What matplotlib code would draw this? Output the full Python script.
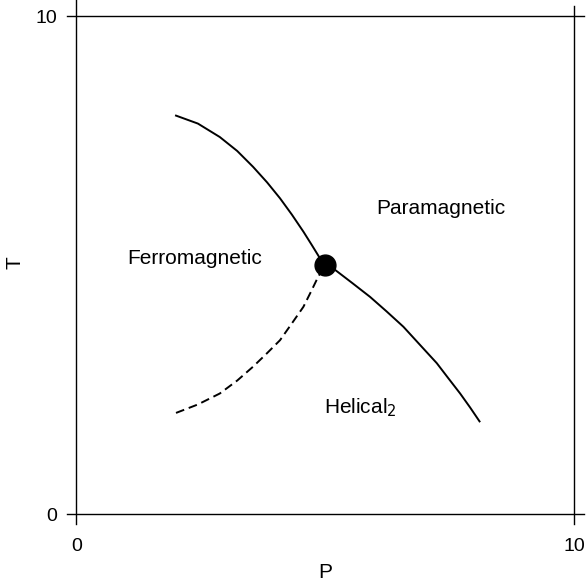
import matplotlib
matplotlib.use('Agg')
import matplotlib.pyplot as plt

plt.rcParams['font.family'] = ['Liberation Sans', 'DejaVu Sans']

# phase boundaries (P, T)
upper_p = [2.0, 2.44, 2.88, 3.23, 3.55, 3.83, 4.09, 4.33, 4.56, 4.73, 4.89, 5.0]
upper_t = [8.0, 7.84, 7.57, 7.29, 6.97, 6.66, 6.34, 6.01, 5.67, 5.40, 5.14, 5.0]
lower_p = [5.0, 5.20, 5.54, 5.90, 6.23, 6.57, 6.90, 7.24, 7.47, 7.71, 7.91, 8.1]
lower_t = [5.0, 4.90, 4.64, 4.36, 4.07, 3.76, 3.40, 3.03, 2.73, 2.42, 2.14, 1.86]
dashed_p = [2.0, 2.44, 2.88, 3.23, 3.55, 3.83, 4.09, 4.33, 4.56, 4.71, 4.86, 5.0]
dashed_t = [2.03, 2.20, 2.42, 2.68, 2.96, 3.23, 3.49, 3.83, 4.16, 4.46, 4.77, 5.0]
point_p, point_t = 5.0, 5.0

regions = ['Ferromagnetic', 'Paramagnetic', r'Helical$_2$']
region_p = [2.38, 7.33, 5.7]
region_t = [5.14, 6.14, 2.13]

fig = plt.figure(figsize=(5.87, 5.82), dpi=100)
ax = fig.add_axes([0.1303, 0.1168, 0.8477, 0.8557])

ax.plot(upper_p, upper_t, color='black', lw=1.4)
ax.plot(lower_p, lower_t, color='black', lw=1.4)
ax.plot(dashed_p, dashed_t, color='black', lw=1.4, linestyle=(0, (4.5, 2.5)))
ax.plot([point_p], [point_t], 'o', color='black', markersize=15)

for name, p, t in zip(regions, region_p, region_t):
    ax.text(p, t, name, fontsize=15, ha='center', va='center')

ax.set_xlim(0, 10)
ax.set_ylim(0, 10)
ax.set_xticks([0, 10])
ax.set_yticks([0, 10])
ax.tick_params(length=0, labelsize=14)
ax.tick_params(axis='x', pad=17)
ax.tick_params(axis='y', pad=14)

# frame lines that run a little past the corners
for s in ax.spines.values():
    s.set_visible(False)
e = 0.02
for y in (0, 1):
    ax.plot([-e, 1 + e], [y, y], transform=ax.transAxes, color='black', lw=1, clip_on=False)
ax.plot([0, 0], [-e, 1.04], transform=ax.transAxes, color='black', lw=1, clip_on=False)
ax.plot([1, 1], [-e, 1 + e], transform=ax.transAxes, color='black', lw=1, clip_on=False)

ax.set_xlabel('P', fontsize=15, labelpad=6)
fig.text(15 / 587, 1 - 263 / 582, 'T', fontsize=15, rotation=90, ha='center', va='center')

fig.savefig('out.png', dpi=100)
